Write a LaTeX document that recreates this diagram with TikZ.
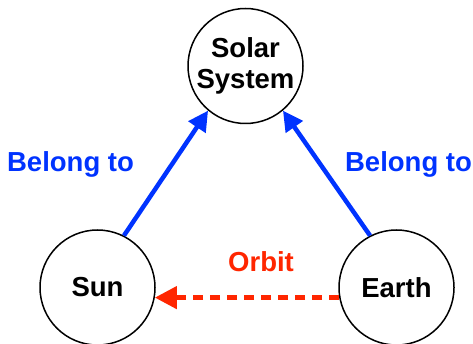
\documentclass[tikz,border=0pt]{standalone}
\usepackage{fontspec}
\setmainfont{Liberation Sans}
\usetikzlibrary{arrows.meta}
\definecolor{belongblue}{RGB}{0,51,255}
\definecolor{orbitred}{RGB}{255,38,0}
\tikzset{
  body/.style={circle,draw=black,line width=1.5pt,minimum size=115pt,inner sep=0pt,align=center,
    font=\fontsize{27.5}{34}\selectfont\bfseries},
  belong/.style={draw=belongblue,line width=4.5pt,-{Triangle[length=20pt,width=20pt]}},
  orbitarrow/.style={draw=orbitred,line width=4.5pt,dash pattern=on 10pt off 7pt,-{Triangle[length=22pt,width=22pt]}},
  lbl/.style={font=\fontsize{27.5}{30}\selectfont\bfseries,inner sep=0pt}
}
\begin{document}
\begin{tikzpicture}[x=1pt,y=-1pt]
\useasboundingbox (0,0) rectangle (473,344);
\node[body] (solar) at (245.5,66) {Solar\\[-3pt]System};
\node[body] (sun) at (97.5,287.5) {Sun};
\node[body] (earth) at (396.5,287.5) {Earth};
\draw[belong] (sun.63) -- (solar.230);
\draw[belong] (earth.117) -- (solar.310);
\draw[orbitarrow] (earth.190) -- (sun.-10);
\node[lbl,text=belongblue] (bl) at (70.5,164) {Belong to};
\node[lbl,text=belongblue] (br) at (408.5,164) {Belong to};
\node[lbl,text=orbitred] (ob) at (261,262) {Orbit};
\end{tikzpicture}
\end{document}
